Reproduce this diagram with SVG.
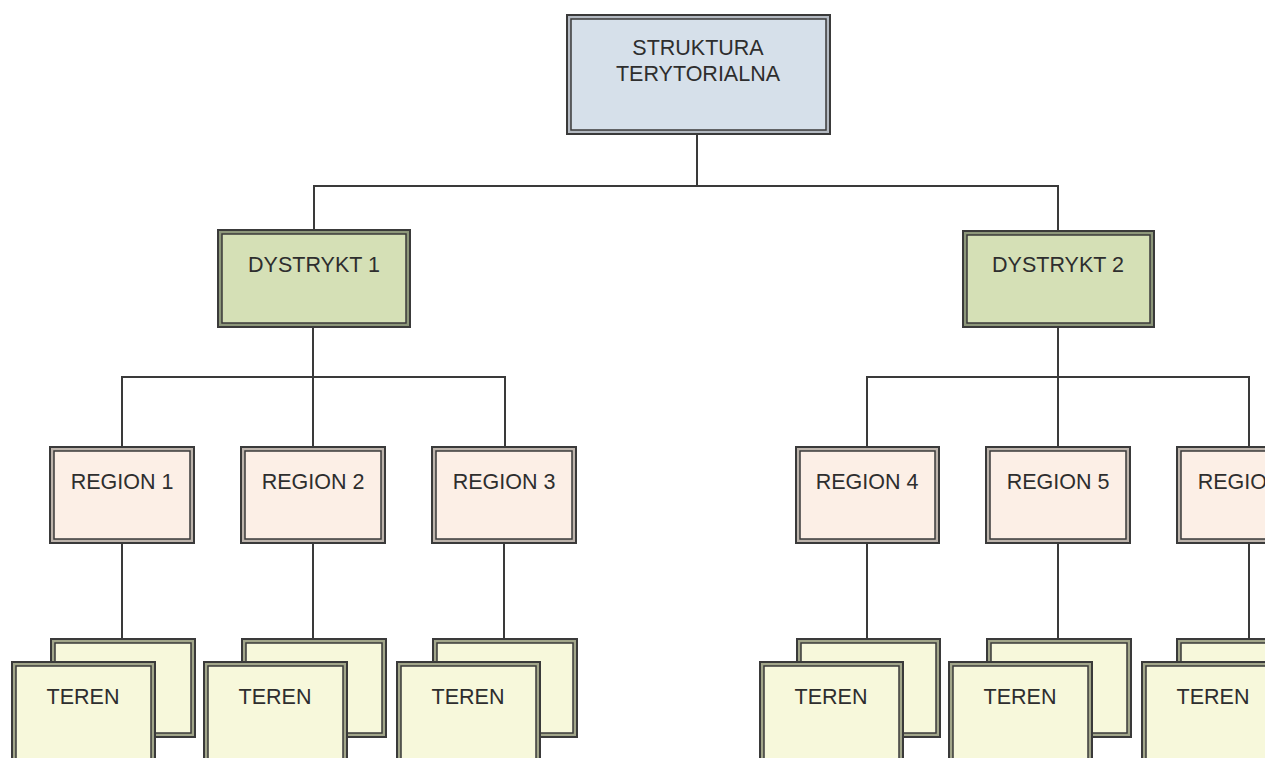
<svg xmlns="http://www.w3.org/2000/svg" width="1265" height="758" viewBox="0 0 1265 758">
<style>
text{font-family:"Liberation Sans",Arial,sans-serif;font-size:21.5px;fill:#2e2e2e;text-anchor:middle}
.o{stroke:#3a3a3a;stroke-width:2}
.i{stroke:#3a3a3a;stroke-width:1.5}
.ob{fill:#b4bac2}.ib{fill:#d6e0ea}
.og{fill:#8d977a}.ig{fill:#d5e0b6}
.or{fill:#bdb4ac}.ir{fill:#fcefe6}
.oy{fill:#a2a68a}.iy{fill:#f7f8db}
.c{fill:none;stroke:#3a3a3a;stroke-width:2}
</style>
<rect width="1265" height="758" fill="#fff"/>
<g id="connectors" class="c">
<path d="M697 134V186M314 230V186H1058V231"/>
<path d="M313 327V377M122 447V377H505V447M313 377V447"/>
<path d="M1058 327V377M867 447V377H1249V447M1058 377V447"/>
<path d="M122 543V639M313 543V639M504 543V639M867 543V639M1058 543V639M1249 543V639"/>
</g>
<g id="top">
<rect class="o ob" x="567" y="15" width="263" height="119"/>
<rect class="i ib" x="571" y="19" width="255" height="111"/>
<text x="698" y="55">STRUKTURA</text>
<text x="698" y="81">TERYTORIALNA</text>
</g>
<g id="d1">
<rect class="o og" x="218" y="230" width="192" height="97"/>
<rect class="i ig" x="222" y="234" width="184" height="89"/>
<text x="314" y="272">DYSTRYKT 1</text>
</g>
<g id="d2">
<rect class="o og" x="963" y="231" width="191" height="96"/>
<rect class="i ig" x="967" y="235" width="183" height="88"/>
<text x="1058" y="272">DYSTRYKT 2</text>
</g>
<g id="r1"><rect class="o or" x="50" y="447" width="144" height="96"/><rect class="i ir" x="54" y="451" width="136" height="88"/><text x="122" y="489">REGION 1</text></g>
<g id="r2"><rect class="o or" x="241" y="447" width="144" height="96"/><rect class="i ir" x="245" y="451" width="136" height="88"/><text x="313" y="489">REGION 2</text></g>
<g id="r3"><rect class="o or" x="432" y="447" width="144" height="96"/><rect class="i ir" x="436" y="451" width="136" height="88"/><text x="504" y="489">REGION 3</text></g>
<g id="r4"><rect class="o or" x="796" y="447" width="143" height="96"/><rect class="i ir" x="800" y="451" width="135" height="88"/><text x="867" y="489">REGION 4</text></g>
<g id="r5"><rect class="o or" x="986" y="447" width="144" height="96"/><rect class="i ir" x="990" y="451" width="136" height="88"/><text x="1058" y="489">REGION 5</text></g>
<g id="r6"><rect class="o or" x="1177" y="447" width="144" height="96"/><rect class="i ir" x="1181" y="451" width="136" height="88"/><text x="1249" y="489">REGION 6</text></g>
<g id="t1"><rect class="o oy" x="51" y="639" width="144" height="98"/><rect class="i iy" x="55" y="643" width="136" height="90"/><rect class="o oy" x="12" y="662" width="143" height="110"/><rect class="i iy" x="16" y="666" width="135" height="102"/><text x="83" y="704">TEREN</text></g>
<g id="t2"><rect class="o oy" x="242" y="639" width="144" height="98"/><rect class="i iy" x="246" y="643" width="136" height="90"/><rect class="o oy" x="204" y="662" width="143" height="110"/><rect class="i iy" x="208" y="666" width="135" height="102"/><text x="275" y="704">TEREN</text></g>
<g id="t3"><rect class="o oy" x="433" y="639" width="144" height="98"/><rect class="i iy" x="437" y="643" width="136" height="90"/><rect class="o oy" x="397" y="662" width="143" height="110"/><rect class="i iy" x="401" y="666" width="135" height="102"/><text x="468" y="704">TEREN</text></g>
<g id="t4"><rect class="o oy" x="797" y="639" width="143" height="98"/><rect class="i iy" x="801" y="643" width="135" height="90"/><rect class="o oy" x="760" y="662" width="143" height="110"/><rect class="i iy" x="764" y="666" width="135" height="102"/><text x="831" y="704">TEREN</text></g>
<g id="t5"><rect class="o oy" x="987" y="639" width="144" height="98"/><rect class="i iy" x="991" y="643" width="136" height="90"/><rect class="o oy" x="949" y="662" width="143" height="110"/><rect class="i iy" x="953" y="666" width="135" height="102"/><text x="1020" y="704">TEREN</text></g>
<g id="t6"><rect class="o oy" x="1177" y="639" width="144" height="98"/><rect class="i iy" x="1181" y="643" width="136" height="90"/><rect class="o oy" x="1142" y="662" width="143" height="110"/><rect class="i iy" x="1146" y="666" width="135" height="102"/><text x="1213" y="704">TEREN</text></g>
</svg>
